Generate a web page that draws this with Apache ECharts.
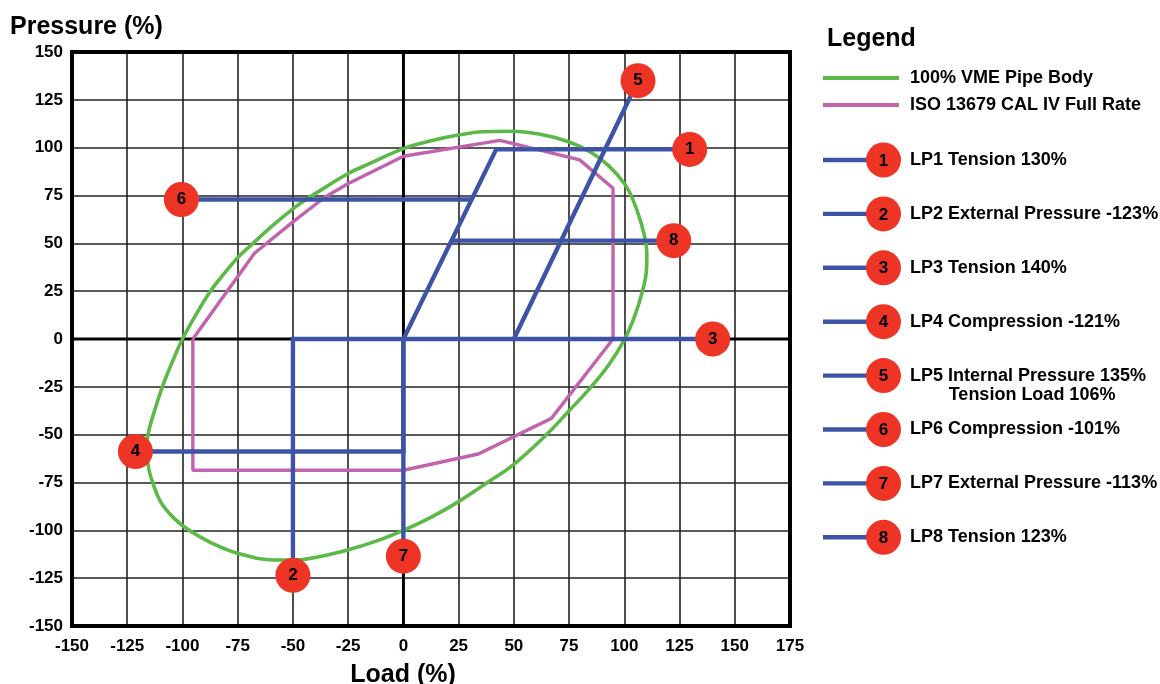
<!DOCTYPE html>
<html>
<head>
<meta charset="utf-8">
<script src="https://cdn.jsdelivr.net/npm/echarts@6/dist/echarts.min.js"></script>
<style>
html,body{margin:0;padding:0;background:#ffffff;}
#chart{width:1160px;height:684px;}
</style>
</head>
<body>
<div id="chart"></div>
<script>
// ---------------- DATA ----------------
const xAxisRange = [-150, 175];
const yAxisRange = [-150, 150];
const tickStep = 25;

// 100% VME pipe body envelope (load %, pressure %)
const vmeEnvelope = [
  [0,-100],[12,-93.5],[25,-85],[38,-75],[50,-65.5],[64.8,-50],[75,-37.5],[85,-25],
  [93,-13.5],[100.2,0],[104.7,12],[108,24.1],[109.9,34.5],[110.2,43.1],[109.9,49.1],
  [107.7,60.3],[103.5,74],[100.2,81],[93,90.5],[85,97.5],[74.8,103.1],[62,107],
  [49,108.6],[36,108.3],[24.8,106.6],[12,103.5],[0,99.5],[-15.9,91.4],[-25,86.5],
  [-35,79.5],[-43.9,73],[-50,68],[-60,58.5],[-68.9,49.1],[-75,42.5],[-82,33],[-87.9,24.1],
  [-94,12.5],[-100,0],[-103.5,-9],[-106.8,-18.1],[-109.1,-25],[-113,-38.8],[-115.6,-50],
  [-116.2,-57.8],[-115.2,-68.1],[-113.6,-74.7],[-109.8,-85.3],[-104,-93.5],[-97,-100],
  [-87,-106.5],[-75,-112],[-58.3,-115.5],[-50,-115.5],[-37,-113.5],[-25.3,-110.3],
  [-12,-105.5],[0,-100]
];

// ISO 13679 CAL IV full rate envelope
const isoCalIV = [
  [-95.3,0],[-67.4,44.8],[-50,61.2],[-35.6,74.1],[-25.3,81],[0,95.5],[43.7,103.8],
  [79.8,93.6],[94.9,78.8],[94.9,0],[67,-41.5],[33.9,-60.1],[0,-68.6],[-95.3,-68.6],[-95.3,0]
];

// Zero reference lines
const zeroLineX = [[0,-150],[0,150]];
const zeroLineY = [[-150,0],[175,0]];

// Load paths
const lp1Path = [[0,0],[42,99.1],[129.6,99.1]];
const lp2Path = [[0,0],[-50,0],[-50,-123.5]];
const lp3Path = [[0,0],[140,0]];
const lp4Path = [[0,0],[0,-58.8],[-121.3,-58.8]];
const lp5Path = [[50,0],[106.2,135]];
const lp6Path = [[30.9,72.9],[-100.5,72.9]];
const lp7Path = [[0,0],[0,-113.5]];
const lp8Path = [[21.7,51.4],[122.4,51.4]];

// Numbered load point markers
const markerPoints = [
  [129.6,99.1],[-50,-123.5],[140,0],[-121.3,-58.8],
  [106.2,135],[-100.5,72.9],[0,-113.5],[122.4,51.4]
];
const markerLabels = ['1','2','3','4','5','6','7','8'];

// Texts
const yAxisTitle = 'Pressure (%)';
const xAxisTitle = 'Load (%)';
const legendTitle = 'Legend';
const envelopeNames = ['100% VME Pipe Body', 'ISO 13679 CAL IV Full Rate'];
const loadPointNames = [
  'LP1 Tension 130%',
  'LP2 External Pressure -123%',
  'LP3 Tension 140%',
  'LP4 Compression -121%',
  'LP5 Internal Pressure 135%',
  'LP6 Compression -101%',
  'LP7 External Pressure -113%',
  'LP8 Tension 123%'
];
const lp5SecondLine = 'Tension Load 106%';

// ---------------- STYLE ----------------
const FONT = '"Liberation Sans", Arial, Helvetica, sans-serif';
const GREEN = '#5cb947';
const MAGENTA = '#c263ad';
const BLUE = '#3d54a6';
const RED = '#ee3525';

const chart = echarts.init(document.getElementById('chart'), null, {renderer: 'canvas'});

function measure(text, font) {
  const c = document.createElement('canvas').getContext('2d');
  c.font = font;
  return c.measureText(text).width;
}

const lpPaths = [lp1Path, lp2Path, lp3Path, lp4Path, lp5Path, lp6Path, lp7Path, lp8Path];

const series = [];
[zeroLineX, zeroLineY].forEach((d) => {
  series.push({
    type: 'line', data: d, silent: true, z: 1, showSymbol: false, symbol: 'none',
    lineStyle: {color: '#000', width: 2.8}
  });
});
series.push({
  type: 'line', name: envelopeNames[0], data: vmeEnvelope, smooth: 0.4,
  showSymbol: false, symbol: 'none', z: 2,
  lineStyle: {color: GREEN, width: 3.6, join: 'round'}
});
series.push({
  type: 'line', name: envelopeNames[1], data: isoCalIV, smooth: false,
  showSymbol: false, symbol: 'none', z: 3,
  lineStyle: {color: MAGENTA, width: 3.4}
});
lpPaths.forEach((p, i) => {
  series.push({
    type: 'line', name: loadPointNames[i], data: p, showSymbol: false, symbol: 'none', z: 4,
    lineStyle: {color: BLUE, width: 4.4, cap: 'butt', join: 'miter'}
  });
});
series.push({
  type: 'scatter', data: markerPoints, symbol: 'circle', symbolSize: 35, z: 6,
  itemStyle: {color: RED, opacity: 1},
  label: {
    show: true, position: 'inside', color: '#000',
    fontFamily: FONT, fontWeight: 'bold', fontSize: 17,
    formatter: (p) => markerLabels[p.dataIndex]
  }
});

// ---------------- TITLES & LEGEND (graphic) ----------------
const graphics = [];
graphics.push({type: 'text', left: 10, top: 15, z: 10,
  style: {text: yAxisTitle, font: 'bold 25px ' + FONT, fill: '#000'}});
graphics.push({type: 'text', x: 403, y: 675, z: 10,
  style: {text: xAxisTitle, font: 'bold 25px ' + FONT, fill: '#000', align: 'center', verticalAlign: 'middle'}});
graphics.push({type: 'text', x: 827, y: 39, z: 10,
  style: {text: legendTitle, font: 'bold 25px ' + FONT, fill: '#000', verticalAlign: 'middle'}});

const legendFont = 'bold 18px ' + FONT;
[[GREEN, 78], [MAGENTA, 105]].forEach((c, i) => {
  graphics.push({type: 'line', z: 10, shape: {x1: 823, y1: c[1], x2: 899, y2: c[1]},
    style: {stroke: c[0], lineWidth: 4}});
  graphics.push({type: 'text', x: 910, y: c[1], z: 10,
    style: {text: envelopeNames[i], font: legendFont, fill: '#000', verticalAlign: 'middle'}});
});
loadPointNames.forEach((name, i) => {
  const y = 160 + i * 53.9;
  graphics.push({type: 'line', z: 10, shape: {x1: 823, y1: y, x2: 872, y2: y},
    style: {stroke: BLUE, lineWidth: 4.4}});
  graphics.push({type: 'circle', z: 11, shape: {cx: 883.5, cy: y, r: 17.5},
    style: {fill: RED}});
  graphics.push({type: 'text', x: 883.5, y: y + 1, z: 12,
    style: {text: markerLabels[i], font: 'bold 17px ' + FONT, fill: '#000', align: 'center', verticalAlign: 'middle'}});
  graphics.push({type: 'text', x: 910, y: y, z: 10,
    style: {text: name, font: legendFont, fill: '#000', verticalAlign: 'middle'}});
  if (i === 4) {
    const w = measure(name, legendFont);
    graphics.push({type: 'text', x: 910 + w / 2 + 4, y: y + 19, z: 10,
      style: {text: lp5SecondLine, font: legendFont, fill: '#000', align: 'center', verticalAlign: 'middle'}});
  }
});

const axisLabelStyle = {color: '#000', fontFamily: FONT, fontWeight: 'bold', fontSize: 17};

chart.setOption({
  animation: false,
  backgroundColor: '#ffffff',
  grid: {left: 72, right: 370, top: 52, bottom: 58, show: true,
    borderColor: '#000', borderWidth: 4, backgroundColor: 'transparent', z: 20},
  xAxis: {
    type: 'value', min: xAxisRange[0], max: xAxisRange[1], interval: tickStep,
    axisLine: {show: false}, axisTick: {show: false},
    axisLabel: Object.assign({margin: 12}, axisLabelStyle),
    splitLine: {show: true, lineStyle: {color: '#222', width: 1.6}}
  },
  yAxis: {
    type: 'value', min: yAxisRange[0], max: yAxisRange[1], interval: tickStep,
    axisLine: {show: false}, axisTick: {show: false},
    axisLabel: Object.assign({margin: 9}, axisLabelStyle),
    splitLine: {show: true, lineStyle: {color: '#222', width: 1.6}}
  },
  legend: {show: false},
  tooltip: {show: false},
  series: series,
  graphic: graphics
});
</script>
</body>
</html>
